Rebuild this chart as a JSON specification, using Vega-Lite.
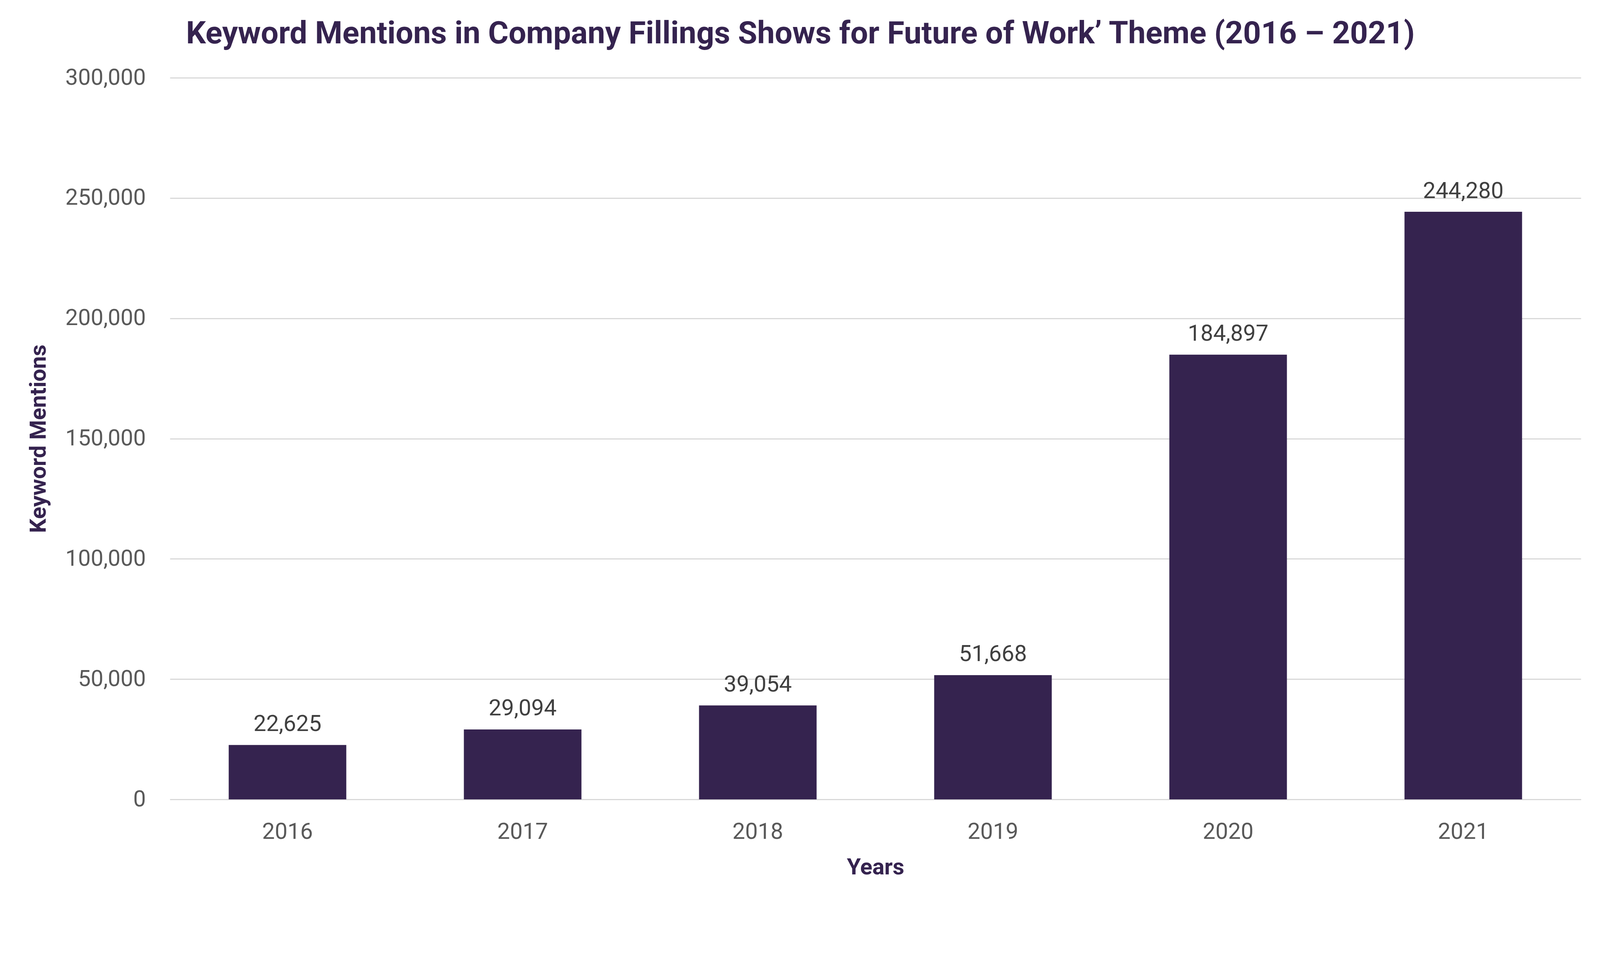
{
  "$schema": "https://vega.github.io/schema/vega-lite/v6.json",
  "autosize": {"type": "none"},
  "padding": {"left": 435, "top": 199, "right": 43, "bottom": 261},
  "width": 3612,
  "height": 1847,
  "background": "white",
  "title": {
    "text": "Keyword Mentions in Company Fillings Shows for Future of Work’ Theme (2016 – 2021)",
    "anchor": "middle",
    "frame": "group",
    "dx": -192,
    "offset": -21,
    "baseline": "alphabetic",
    "font": "Roboto",
    "fontSize": 80,
    "fontWeight": "bold",
    "color": "#35234f"
  },
  "data": {
    "values": [
      {"year": "2016", "mentions": 22625},
      {"year": "2017", "mentions": 29094},
      {"year": "2018", "mentions": 39054},
      {"year": "2019", "mentions": 51668},
      {"year": "2020", "mentions": 184897},
      {"year": "2021", "mentions": 244280}
    ]
  },
  "encoding": {
    "x": {
      "field": "year",
      "type": "ordinal",
      "title": "Years",
      "scale": {"paddingInner": 0.5, "paddingOuter": 0.25},
      "axis": {
        "labelAngle": 0,
        "ticks": false,
        "domain": true,
        "domainColor": "#d9d9d9",
        "domainWidth": 2.8,
        "labelPadding": 54,
        "titlePadding": 33.5
      }
    },
    "y": {
      "field": "mentions",
      "type": "quantitative",
      "title": "Keyword Mentions",
      "scale": {"domain": [0, 300000]},
      "axis": {
        "values": [0, 50000, 100000, 150000, 200000, 250000, 300000],
        "labelExpr": "format(datum.value, ',')",
        "labelLimit": 400,
        "ticks": false,
        "domain": false,
        "grid": true,
        "gridColor": "#d9d9d9",
        "gridWidth": 2.8,
        "labelPadding": 62,
        "titlePadding": 107
      }
    }
  },
  "layer": [
    {"mark": {"type": "bar", "color": "#35234f"}},
    {
      "mark": {
        "type": "text",
        "baseline": "alphabetic",
        "dy": -35.5,
        "font": "Roboto",
        "fontSize": 57.8,
        "color": "#404040"
      },
      "encoding": {
        "text": {"field": "mentions", "type": "quantitative", "format": ","}
      }
    }
  ],
  "config": {
    "view": {"stroke": null},
    "axis": {
      "labelFont": "Roboto",
      "labelFontSize": 57.8,
      "labelColor": "#595959",
      "titleFont": "Roboto",
      "titleFontSize": 57.8,
      "titleFontWeight": "bold",
      "titleColor": "#35234f"
    }
  }
}
